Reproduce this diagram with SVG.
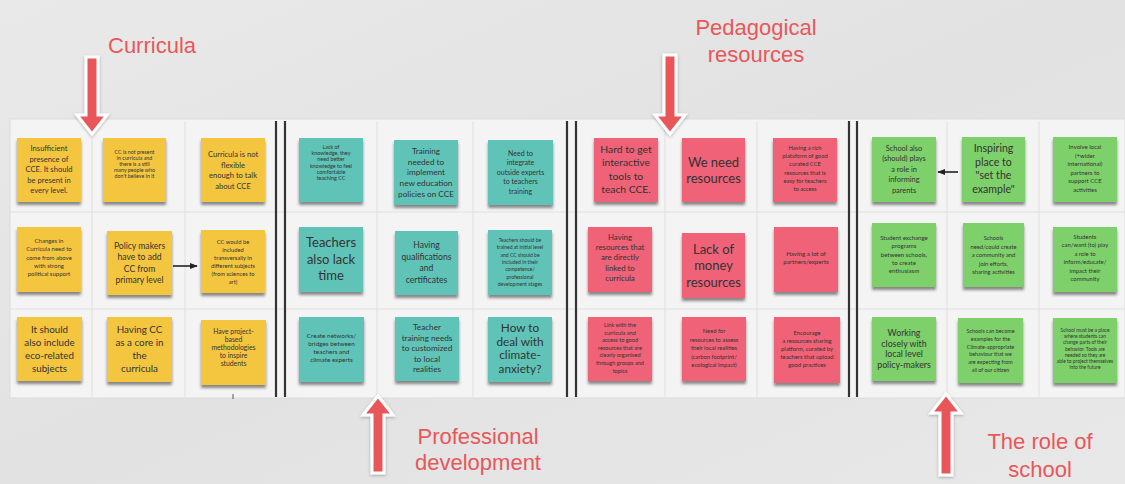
<svg xmlns="http://www.w3.org/2000/svg" width="1125" height="484" viewBox="0 0 1125 484">
<defs>
<filter id="ns" x="-20%" y="-20%" width="140%" height="150%"><feDropShadow dx="0" dy="3" stdDeviation="1.8" flood-color="#000" flood-opacity="0.45"/></filter>
<filter id="as" x="-30%" y="-20%" width="160%" height="140%"><feDropShadow dx="0" dy="1" stdDeviation="1.5" flood-color="#000" flood-opacity="0.3"/></filter>
<marker id="ah" viewBox="0 0 10 10" refX="9" refY="5" markerWidth="5" markerHeight="5" orient="auto"><path d="M0,1 L10,5 L0,9 Z" fill="#222"/></marker>
<linearGradient id="bg" x1="0" y1="0" x2="1" y2="1"><stop offset="0" stop-color="#e9e9e9"/><stop offset="0.5" stop-color="#e2e2e2"/><stop offset="1" stop-color="#e8e8e8"/></linearGradient>
</defs>
<style>
.n{filter:url(#ns)}
.y{fill:#f4c63f}.tl{fill:#5fc3b7}.p{fill:#ef6277}.g{fill:#7ed06a}
.t{font-family:Lato,"Open Sans",sans-serif;fill:#333;text-anchor:middle}
.lbl{font-family:"Liberation Sans",Arial,sans-serif;font-size:22px;fill:#e8575a}
.ra{fill:#e8575a;stroke:#fff;stroke-width:3;filter:url(#as)}
.grid{stroke:#e0e0e0;stroke-width:1}
.div{stroke:#333;stroke-width:2.2}
.con{stroke:#222;stroke-width:1.6;fill:none;marker-end:url(#ah)}
</style>
<rect width="1125" height="484" fill="url(#bg)"/>
<g id="board">
<rect x="10" y="119" width="1115" height="279" fill="#f4f4f4" stroke="#dcdcdc"/>
<g class="grid">
<line x1="92" y1="121" x2="92" y2="397"/><line x1="185" y1="121" x2="185" y2="397"/>
<line x1="377" y1="121" x2="377" y2="397"/><line x1="473" y1="121" x2="473" y2="397"/>
<line x1="665" y1="121" x2="665" y2="397"/><line x1="757" y1="121" x2="757" y2="397"/>
<line x1="947" y1="121" x2="947" y2="397"/><line x1="1039" y1="121" x2="1039" y2="397"/>
<line x1="10" y1="212" x2="1125" y2="212"/><line x1="10" y1="309" x2="1125" y2="309"/>
</g>
<g class="div">
<line x1="276" y1="121" x2="276" y2="397"/><line x1="285" y1="121" x2="285" y2="397"/>
<line x1="567" y1="121" x2="567" y2="397"/><line x1="576" y1="121" x2="576" y2="397"/>
<line x1="849" y1="121" x2="849" y2="397"/><line x1="857" y1="121" x2="857" y2="397"/>
</g>
<line x1="233" y1="394" x2="233" y2="399" stroke="#555" stroke-width="1"/>
</g>

<g id="titles">
<text class="lbl" x="108" y="53">Curricula</text>
<text class="lbl" x="756" y="35" text-anchor="middle">Pedagogical</text>
<text class="lbl" x="756" y="62" text-anchor="middle">resources</text>
<text class="lbl" x="478" y="444" text-anchor="middle">Professional</text>
<text class="lbl" x="478" y="470" text-anchor="middle">development</text>
<text class="lbl" x="1040" y="449" text-anchor="middle">The role of</text>
<text class="lbl" x="1040" y="477" text-anchor="middle">school</text>
</g>

<g id="red-arrows">
<path class="ra" d="M86,57 H98 V115 H107 L92,134 L77,115 H86 Z"/>
<path class="ra" d="M664,55 H676 V115 H685 L670,134 L655,115 H664 Z"/>
<path class="ra" d="M372,473 H384 V415 H393 L378,396 L363,415 H372 Z"/>
<path class="ra" d="M940,475 H952 V413 H961 L946,394 L931,413 H940 Z"/>
</g>

<!-- Yellow: Curricula -->
<g id="y11"><rect class="n y" x="17" y="138" width="64" height="64"/><text class="t" font-size="7.6" y="151"><tspan x="49">Insufficient</tspan><tspan x="49" dy="10.5">presence of</tspan><tspan x="49" dy="10.5">CCE. It should</tspan><tspan x="49" dy="10.5">be present in</tspan><tspan x="49" dy="10.5">every level.</tspan></text></g>
<g id="y12"><rect class="n y" x="103" y="138" width="63" height="64"/><text class="t" font-size="5.3" y="154"><tspan x="134.5">CC is not present</tspan><tspan x="134.5" dy="6">in curricula and</tspan><tspan x="134.5" dy="6">there is a still</tspan><tspan x="134.5" dy="6">many people who</tspan><tspan x="134.5" dy="6">don't believe in it</tspan></text></g>
<g id="y13"><rect class="n y" x="201" y="138" width="64" height="64"/><text class="t" font-size="7.6" y="157"><tspan x="233">Curricula is not</tspan><tspan x="233" dy="10.7">flexible</tspan><tspan x="233" dy="10.7">enough to talk</tspan><tspan x="233" dy="10.7">about CCE</tspan></text></g>
<g id="y21"><rect class="n y" x="17" y="227" width="64" height="65"/><text class="t" font-size="6" y="243"><tspan x="49">Changes in</tspan><tspan x="49" dy="8.3">Curricula need to</tspan><tspan x="49" dy="8.3">come from above</tspan><tspan x="49" dy="8.3">with strong</tspan><tspan x="49" dy="8.3">political support</tspan></text></g>
<g id="y22"><rect class="n y" x="107" y="231" width="65" height="64"/><text class="t" font-size="8.6" y="248.5"><tspan x="139.5">Policy makers</tspan><tspan x="139.5" dy="11.5">have to add</tspan><tspan x="139.5" dy="11.5">CC from</tspan><tspan x="139.5" dy="11.5">primary level</tspan></text></g>
<g id="y23"><rect class="n y" x="201" y="230" width="64" height="63"/><text class="t" font-size="5.8" y="244"><tspan x="233">CC would be</tspan><tspan x="233" dy="8">included</tspan><tspan x="233" dy="8">transversally in</tspan><tspan x="233" dy="8">different subjects</tspan><tspan x="233" dy="8">(from sciences to</tspan><tspan x="233" dy="8">art)</tspan></text></g>
<g id="y31"><rect class="n y" x="17" y="317" width="65" height="64"/><text class="t" font-size="9.8" y="332.5"><tspan x="49.5">It should</tspan><tspan x="49.5" dy="13">also include</tspan><tspan x="49.5" dy="13">eco-related</tspan><tspan x="49.5" dy="13">subjects</tspan></text></g>
<g id="y32"><rect class="n y" x="107" y="317" width="65" height="65"/><text class="t" font-size="9.8" y="332.5"><tspan x="139.5">Having CC</tspan><tspan x="139.5" dy="13">as a core in</tspan><tspan x="139.5" dy="13">the</tspan><tspan x="139.5" dy="13">curricula</tspan></text></g>
<g id="y33"><rect class="n y" x="201" y="320" width="65" height="65"/><text class="t" font-size="6.8" y="333.5"><tspan x="233.5">Have project-</tspan><tspan x="233.5" dy="8">based</tspan><tspan x="233.5" dy="8">methodologies</tspan><tspan x="233.5" dy="8">to inspire</tspan><tspan x="233.5" dy="8">students</tspan></text></g>

<!-- Teal: Professional development -->
<g id="t11"><rect class="n tl" x="299" y="138" width="64" height="64"/><text class="t" font-size="5.4" y="149"><tspan x="331">Lack of</tspan><tspan x="331" dy="6.2">knowledge, they</tspan><tspan x="331" dy="6.2">need better</tspan><tspan x="331" dy="6.2">knowledge to feel</tspan><tspan x="331" dy="6.2">comfortable</tspan><tspan x="331" dy="6.2">teaching CC</tspan></text></g>
<g id="t12"><rect class="n tl" x="394" y="140" width="64" height="65"/><text class="t" font-size="8.2" y="154"><tspan x="426">Training</tspan><tspan x="426" dy="10.7">needed to</tspan><tspan x="426" dy="10.7">implement</tspan><tspan x="426" dy="10.7">new education</tspan><tspan x="426" dy="10.7">policies on CCE</tspan></text></g>
<g id="t13"><rect class="n tl" x="488" y="140" width="65" height="65"/><text class="t" font-size="7" y="155.5"><tspan x="520.5">Need to</tspan><tspan x="520.5" dy="9.5">integrate</tspan><tspan x="520.5" dy="9.5">outside experts</tspan><tspan x="520.5" dy="9.5">to teachers</tspan><tspan x="520.5" dy="9.5">training</tspan></text></g>
<g id="t21"><rect class="n tl" x="299" y="227" width="64" height="65"/><text class="t" font-size="13" y="247"><tspan x="331">Teachers</tspan><tspan x="331" dy="16.5">also lack</tspan><tspan x="331" dy="16.5">time</tspan></text></g>
<g id="t22"><rect class="n tl" x="395" y="231" width="63" height="64"/><text class="t" font-size="8.6" y="248"><tspan x="426.5">Having</tspan><tspan x="426.5" dy="11.5">qualifications</tspan><tspan x="426.5" dy="11.5">and</tspan><tspan x="426.5" dy="11.5">certificates</tspan></text></g>
<g id="t23"><rect class="n tl" x="488" y="230" width="64" height="65"/><text class="t" font-size="5.1" y="242"><tspan x="520">Teachers should be</tspan><tspan x="520" dy="7.3">trained at initial level</tspan><tspan x="520" dy="7.3">and CC should be</tspan><tspan x="520" dy="7.3">included in their</tspan><tspan x="520" dy="7.3">competence/</tspan><tspan x="520" dy="7.3">professional</tspan><tspan x="520" dy="7.3">development stages</tspan></text></g>
<g id="t31"><rect class="n tl" x="299" y="317" width="65" height="65"/><text class="t" font-size="6.4" y="337.5"><tspan x="331.5">Create networks/</tspan><tspan x="331.5" dy="8.3">bridges between</tspan><tspan x="331.5" dy="8.3">teachers and</tspan><tspan x="331.5" dy="8.3">climate experts</tspan></text></g>
<g id="t32"><rect class="n tl" x="395" y="317" width="64" height="64"/><text class="t" font-size="8.2" y="330"><tspan x="427">Teacher</tspan><tspan x="427" dy="10.5">training needs</tspan><tspan x="427" dy="10.5">to customized</tspan><tspan x="427" dy="10.5">to local</tspan><tspan x="427" dy="10.5">realities</tspan></text></g>
<g id="t33"><rect class="n tl" x="488" y="317" width="64" height="65"/><text class="t" font-size="11.8" y="332"><tspan x="520">How to</tspan><tspan x="520" dy="13.7">deal with</tspan><tspan x="520" dy="13.7">climate-</tspan><tspan x="520" dy="13.7">anxiety?</tspan></text></g>

<!-- Pink: Pedagogical resources -->
<g id="p11"><rect class="n p" x="594" y="138" width="64" height="64"/><text class="t" font-size="10.3" y="153"><tspan x="626">Hard to get</tspan><tspan x="626" dy="13.3">interactive</tspan><tspan x="626" dy="13.3">tools to</tspan><tspan x="626" dy="13.3">teach CCE.</tspan></text></g>
<g id="p12"><rect class="n p" x="682" y="138" width="63" height="64"/><text class="t" font-size="13" y="166.5"><tspan x="713.5">We need</tspan><tspan x="713.5" dy="16">resources</tspan></text></g>
<g id="p13"><rect class="n p" x="773" y="138" width="64" height="64"/><text class="t" font-size="5.8" y="150"><tspan x="805">Having a rich</tspan><tspan x="805" dy="8.2">plataform of good</tspan><tspan x="805" dy="8.2">curated CCE</tspan><tspan x="805" dy="8.2">resources that is</tspan><tspan x="805" dy="8.2">easy for teachers</tspan><tspan x="805" dy="8.2">to access</tspan></text></g>
<g id="p21"><rect class="n p" x="588" y="227" width="64" height="65"/><text class="t" font-size="7.8" y="240"><tspan x="620">Having</tspan><tspan x="620" dy="10.2">resources that</tspan><tspan x="620" dy="10.2">are directly</tspan><tspan x="620" dy="10.2">linked to</tspan><tspan x="620" dy="10.2">curricula</tspan></text></g>
<g id="p22"><rect class="n p" x="682" y="233" width="63" height="65"/><text class="t" font-size="13" y="253.5"><tspan x="713.5">Lack of</tspan><tspan x="713.5" dy="16.5">money</tspan><tspan x="713.5" dy="16.5">resources</tspan></text></g>
<g id="p23"><rect class="n p" x="774" y="227" width="64" height="65"/><text class="t" font-size="6.2" y="256"><tspan x="806">Having a lot of</tspan><tspan x="806" dy="8">partners/experts</tspan></text></g>
<g id="p31"><rect class="n p" x="588" y="317" width="64" height="64"/><text class="t" font-size="5.6" y="327"><tspan x="620">Link with the</tspan><tspan x="620" dy="7.6">curricula and</tspan><tspan x="620" dy="7.6">access to good</tspan><tspan x="620" dy="7.6">resources that are</tspan><tspan x="620" dy="7.6">clearly organised</tspan><tspan x="620" dy="7.6">through groups and</tspan><tspan x="620" dy="7.6">topics</tspan></text></g>
<g id="p32"><rect class="n p" x="682" y="317" width="64" height="64"/><text class="t" font-size="5.8" y="333"><tspan x="714">Need for</tspan><tspan x="714" dy="8.5">resources to assess</tspan><tspan x="714" dy="8.5">their local realities</tspan><tspan x="714" dy="8.5">(carbon footprint/</tspan><tspan x="714" dy="8.5">ecological impact)</tspan></text></g>
<g id="p33"><rect class="n p" x="774" y="317" width="66" height="66"/><text class="t" font-size="5.9" y="335"><tspan x="807">Encourage</tspan><tspan x="807" dy="8">a resources sharing</tspan><tspan x="807" dy="8">platform, curated by</tspan><tspan x="807" dy="8">teachers that upload</tspan><tspan x="807" dy="8">good practices</tspan></text></g>

<!-- Green: The role of school -->
<g id="g11"><rect class="n g" x="872" y="137" width="64" height="65"/><text class="t" font-size="7.4" y="150.5"><tspan x="904">School also</tspan><tspan x="904" dy="10.5">(should) plays</tspan><tspan x="904" dy="10.5">a role in</tspan><tspan x="904" dy="10.5">informing</tspan><tspan x="904" dy="10.5">parents</tspan></text></g>
<g id="g12"><rect class="n g" x="962" y="137" width="63" height="65"/><text class="t" font-size="10.6" y="152"><tspan x="993.5">Inspiring</tspan><tspan x="993.5" dy="13.7">place to</tspan><tspan x="993.5" dy="13.7">"set the</tspan><tspan x="993.5" dy="13.7">example"</tspan></text></g>
<g id="g13"><rect class="n g" x="1053" y="137" width="64" height="65"/><text class="t" font-size="6" y="149"><tspan x="1085">Involve local</tspan><tspan x="1085" dy="8.6">(+wider</tspan><tspan x="1085" dy="8.6">international)</tspan><tspan x="1085" dy="8.6">partners to</tspan><tspan x="1085" dy="8.6">support CCE</tspan><tspan x="1085" dy="8.6">activities</tspan></text></g>
<g id="g21"><rect class="n g" x="872" y="223" width="64" height="64"/><text class="t" font-size="6.1" y="240"><tspan x="904">Student exchange</tspan><tspan x="904" dy="8.3">programs</tspan><tspan x="904" dy="8.3">between schools,</tspan><tspan x="904" dy="8.3">to create</tspan><tspan x="904" dy="8.3">enthusiasm</tspan></text></g>
<g id="g22"><rect class="n g" x="963" y="223" width="61" height="64"/><text class="t" font-size="5.8" y="240"><tspan x="993.5">Schools</tspan><tspan x="993.5" dy="8.5">need/could create</tspan><tspan x="993.5" dy="8.5">a community and</tspan><tspan x="993.5" dy="8.5">join efforts,</tspan><tspan x="993.5" dy="8.5">sharing activities</tspan></text></g>
<g id="g23"><rect class="n g" x="1053" y="227" width="64" height="65"/><text class="t" font-size="5.9" y="239"><tspan x="1085">Students</tspan><tspan x="1085" dy="8.4">can/want (to) play</tspan><tspan x="1085" dy="8.4">a role to</tspan><tspan x="1085" dy="8.4">inform/educate/</tspan><tspan x="1085" dy="8.4">impact their</tspan><tspan x="1085" dy="8.4">community</tspan></text></g>
<g id="g31"><rect class="n g" x="872" y="317" width="64" height="64"/><text class="t" font-size="8.8" y="336"><tspan x="904">Working</tspan><tspan x="904" dy="10.5">closely with</tspan><tspan x="904" dy="10.5">local level</tspan><tspan x="904" dy="10.5">policy-makers</tspan></text></g>
<g id="g32"><rect class="n g" x="958" y="318" width="65" height="65"/><text class="t" font-size="5.4" y="333"><tspan x="990.5">Schools can become</tspan><tspan x="990.5" dy="7.8">examples for the</tspan><tspan x="990.5" dy="7.8">Climate-appropriate</tspan><tspan x="990.5" dy="7.8">behaviour that we</tspan><tspan x="990.5" dy="7.8">are expecting from</tspan><tspan x="990.5" dy="7.8">all of our citizen</tspan></text></g>
<g id="g33"><rect class="n g" x="1053" y="318" width="64" height="65"/><text class="t" font-size="4.9" y="332"><tspan x="1085">School must be a place</tspan><tspan x="1085" dy="6.2">where students can</tspan><tspan x="1085" dy="6.2">change parts of their</tspan><tspan x="1085" dy="6.2">behavior. Tools are</tspan><tspan x="1085" dy="6.2">needed so they are</tspan><tspan x="1085" dy="6.2">able to project themselves</tspan><tspan x="1085" dy="6.2">into the future</tspan></text></g>

<g id="connectors">
<line class="con" x1="173" y1="266" x2="197" y2="266"/>
<line class="con" x1="958" y1="172" x2="938" y2="172"/>
</g>
</svg>
